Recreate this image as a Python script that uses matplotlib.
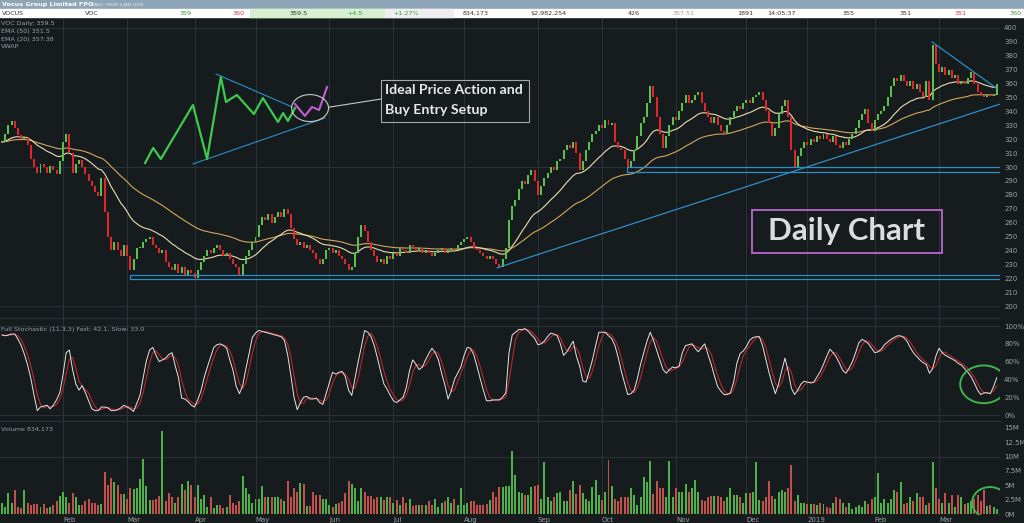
import numpy as np
import pandas as pd
import matplotlib
matplotlib.use('Agg')
import matplotlib.pyplot as plt
from matplotlib.patches import Rectangle, Ellipse

# VOC daily closes (one per trading day from 4 Jan 2018)
closes = [
    318, 324, 330, 333, 328, 323, 320, 321, 316, 306,
    300, 296, 302, 300, 296, 301, 298, 295, 304, 318,
    324, 310, 296, 302, 305, 300, 295, 290, 286, 282,
    279, 292, 268, 250, 240, 246, 240, 236, 244, 236,
    226, 234, 242, 242, 246, 248, 250, 244, 242, 238,
    240, 232, 228, 226, 230, 224, 228, 222, 226, 224,
    220, 226, 232, 236, 240, 238, 242, 244, 240, 236,
    238, 234, 230, 228, 222, 230, 236, 240, 246, 250,
    258, 264, 262, 266, 260, 264, 268, 264, 270, 266,
    256, 248, 244, 246, 242, 244, 240, 238, 234, 230,
    234, 240, 242, 238, 240, 236, 234, 230, 226, 228,
    238, 250, 258, 254, 246, 240, 236, 232, 234, 230,
    236, 234, 238, 236, 242, 240, 238, 244, 242, 240,
    242, 238, 240, 238, 236, 238, 240, 242, 238, 240,
    242, 240, 244, 246, 248, 250, 246, 242, 240, 238,
    236, 234, 236, 234, 230, 228, 234, 242, 262, 272,
    276, 284, 290, 288, 294, 298, 290, 280, 286, 292,
    296, 300, 298, 304, 306, 312, 316, 314, 318, 310,
    298, 304, 312, 318, 324, 326, 330, 328, 334, 330,
    332, 318, 314, 312, 306, 300, 304, 312, 322, 332,
    336, 346, 358, 350, 336, 324, 314, 322, 330, 336,
    334, 340, 346, 352, 346, 348, 352, 354, 346, 340,
    336, 332, 336, 330, 326, 324, 330, 336, 340, 344,
    342, 346, 348, 346, 350, 352, 354, 348, 340, 332,
    322, 328, 338, 344, 348, 336, 312, 300, 308, 314,
    318, 316, 320, 318, 322, 320, 324, 320, 318, 322,
    316, 314, 318, 316, 320, 324, 328, 334, 338, 342,
    332, 326, 334, 338, 340, 344, 350, 358, 364, 362,
    366, 362, 358, 362, 356, 360, 354, 350, 362, 348,
    388, 374, 368, 372, 366, 370, 364, 366, 360, 362,
    360, 364, 368, 360, 354, 352, 350, 352, 351, 352,
    359.5,
]

# daily volume in millions of shares
volumes = [
    1.9, 1.3, 3.6, 1.9, 4.2, 1.3, 1.1, 4.1, 1.9, 1.6,
    1.7, 1.7, 1.3, 1.7, 1.0, 1.3, 1.5, 2.2, 3.2, 3.9,
    2.9, 1.9, 3.7, 2.9, 1.6, 1.6, 2.2, 2.6, 2.0, 1.9,
    1.6, 1.7, 7.3, 5.1, 6.2, 5.5, 5.1, 3.5, 3.5, 2.6,
    4.5, 4.3, 4.6, 6.1, 9.6, 4.8, 2.4, 2.4, 2.6, 3.1,
    14.4, 2.3, 3.6, 2.9, 1.9, 3.0, 5.2, 4.1, 5.7, 5.1,
    3.0, 5.1, 2.7, 3.4, 1.3, 3.0, 1.1, 1.6, 1.5, 1.0,
    1.3, 3.4, 1.9, 1.6, 2.3, 6.6, 4.5, 3.5, 2.0, 2.6,
    2.6, 4.8, 3.0, 2.9, 3.0, 2.9, 2.9, 2.7, 2.3, 5.7,
    3.0, 4.5, 3.9, 5.4, 5.2, 1.4, 1.4, 3.8, 3.3, 3.3,
    2.6, 2.6, 1.6, 1.3, 1.7, 2.0, 2.3, 3.7, 5.8, 5.2,
    4.6, 2.3, 4.6, 3.9, 3.2, 3.1, 2.6, 2.9, 2.9, 2.4,
    3.0, 3.0, 1.9, 2.4, 1.5, 3.0, 2.0, 2.7, 1.4, 1.6,
    1.6, 1.5, 1.6, 2.3, 1.6, 2.6, 1.2, 1.9, 2.2, 2.9,
    1.9, 2.7, 1.6, 4.5, 1.6, 1.9, 2.3, 2.3, 1.6, 1.6,
    1.6, 1.7, 2.4, 3.9, 3.0, 4.7, 4.7, 4.8, 4.8, 11.0,
    6.8, 3.9, 3.6, 3.3, 3.3, 4.7, 4.9, 5.1, 2.7, 9.0,
    2.9, 2.3, 3.0, 3.7, 3.9, 2.3, 2.3, 4.2, 5.7, 3.5,
    5.1, 3.6, 2.7, 2.3, 4.7, 5.9, 3.3, 2.4, 3.9, 9.4,
    4.9, 2.7, 2.2, 2.9, 2.9, 2.9, 4.5, 3.3, 1.6, 2.9,
    6.5, 5.5, 9.3, 3.5, 5.8, 4.5, 4.5, 2.9, 9.3, 2.9,
    4.5, 3.9, 3.9, 5.2, 3.9, 4.5, 5.9, 3.9, 2.4, 2.2,
    3.0, 3.1, 3.1, 3.1, 3.0, 2.2, 3.0, 4.6, 3.3, 3.3,
    3.0, 1.9, 3.6, 3.7, 3.9, 9.0, 2.4, 2.2, 3.0, 5.8,
    3.1, 2.7, 3.9, 4.1, 3.9, 4.5, 8.5, 2.2, 3.3, 1.9,
    1.9, 1.7, 1.7, 1.7, 1.6, 1.9, 1.7, 1.3, 1.0, 1.9,
    3.0, 2.7, 2.0, 1.3, 1.9, 0.8, 1.3, 1.6, 1.3, 2.2,
    1.7, 2.6, 3.0, 7.2, 1.9, 2.6, 1.9, 2.6, 4.2, 3.9,
    5.5, 1.7, 1.9, 2.9, 2.2, 3.6, 2.9, 2.9, 1.5, 2.0,
    9.0, 4.5, 2.7, 2.0, 3.6, 1.9, 3.3, 1.3, 3.3, 2.9,
    1.7, 1.9, 2.2, 2.7, 3.3, 2.2, 4.1, 1.4, 1.5, 1.2,
    0.834,
]

# full stochastic (11,3,3) fast line in %
stoch_fast = [
    90, 89, 90, 91, 91, 85, 78, 68, 56, 41,
    22, 5, 9, 10, 11, 7, 11, 17, 25, 45,
    70, 73, 51, 35, 28, 33, 25, 16, 7, 5,
    5, 9, 9, 8, 5, 5, 6, 8, 11, 9,
    7, 4, 13, 22, 42, 61, 73, 76, 67, 60,
    62, 64, 68, 70, 55, 42, 19, 18, 15, 11,
    9, 17, 27, 42, 54, 65, 76, 79, 80, 78,
    75, 62, 50, 32, 24, 33, 52, 69, 87, 92,
    95, 94, 93, 92, 91, 90, 89, 88, 84, 68,
    45, 20, 6, 14, 20, 21, 18, 18, 19, 14,
    12, 24, 36, 48, 46, 48, 49, 43, 28, 22,
    41, 60, 77, 95, 93, 88, 78, 64, 49, 35,
    29, 22, 16, 14, 17, 20, 31, 50, 62, 57,
    51, 54, 62, 69, 75, 70, 62, 47, 34, 18,
    27, 40, 47, 54, 67, 76, 75, 68, 55, 41,
    28, 16, 16, 17, 17, 17, 20, 25, 70, 90,
    93, 96, 96, 97, 94, 90, 86, 79, 80, 83,
    88, 92, 91, 89, 80, 67, 71, 77, 83, 66,
    55, 38, 37, 49, 62, 78, 93, 93, 93, 89,
    86, 78, 65, 49, 36, 23, 24, 28, 41, 57,
    70, 83, 93, 84, 73, 62, 51, 47, 51, 54,
    53, 55, 70, 78, 79, 80, 75, 71, 76, 80,
    68, 57, 44, 32, 27, 23, 23, 25, 37, 58,
    69, 72, 77, 84, 87, 88, 88, 78, 63, 48,
    35, 24, 35, 50, 64, 49, 30, 23, 28, 35,
    38, 37, 36, 37, 43, 49, 57, 66, 74, 70,
    65, 58, 50, 47, 53, 60, 70, 81, 85, 83,
    80, 75, 70, 71, 74, 79, 82, 85, 87, 89,
    89, 87, 83, 76, 70, 66, 62, 59, 57, 47,
    52, 66, 75, 70, 67, 65, 63, 61, 58, 56,
    52, 48, 43, 36, 28, 23, 25, 25, 24, 32,
    42,
]

first_day = '2018-01-04'
asx_holidays = ['2018-01-26', '2018-03-30', '2018-04-02', '2018-04-25', '2018-06-11',
                '2018-12-25', '2018-12-26', '2019-01-01', '2019-01-28']

price_ticks = list(range(200, 401, 10))
stoch_ticks = [0, 20, 40, 60, 80, 100]
vol_ticks = [0, 2.5, 5, 7.5, 10, 12.5, 15]
vol_labels = ['0M', '2.5M', '5M', '7.5M', '10M', '12.5M', '15M']

header_cells = [
    (2, 'VOCUS', '#333333'), (85, 'VOC', '#333333'), (180, '359', '#3a9a3a'),
    (233, '360', '#cc3b3b'), (290, '359.5', '#333333'), (347, '+4.5', '#3a9a3a'),
    (393, '+1.27%', '#3a9a3a'), (463, '834,173', '#333333'), (530, '$2,982,254', '#333333'),
    (628, '426', '#333333'), (673, '357.51', '#9a9a9a'), (737, '1891', '#333333'),
    (767, '14:05:37', '#333333'), (843, '355', '#333333'), (900, '351', '#333333'),
    (955, '351', '#cc3b3b'), (1010, '360', '#3a9a3a'),
]

W, H = 1024, 523
BG = '#161b1d'
GRID = '#2b3337'
LABEL = '#9aa2a6'
BLUE = '#2b8fc9'


def fx(px):
    return px / W


def fy(py):
    return 1 - py / H


c = np.array(closes, dtype=float)
o = np.r_[c[0], c[:-1]]          # each candle opens at the prior close
vol = np.array(volumes)
x = np.arange(len(c))
up = c >= o

dates = pd.bdate_range(first_day, periods=len(c), freq='C', holidays=asx_holidays)
month_idx, month_lab = [], []
for i in range(1, len(dates)):
    if dates[i].month != dates[i - 1].month:
        month_idx.append(i)
        month_lab.append('2019' if dates[i].month == 1 else dates[i].strftime('%b'))

s = pd.Series(c)
ema20 = s.ewm(span=20, adjust=False).mean()
ema50 = s.ewm(span=50, adjust=False).mean()
fast = pd.Series(stoch_fast, dtype=float)
slow = fast.rolling(3, min_periods=1).mean()

fig = plt.figure(figsize=(W / 100, H / 100), dpi=100)
fig.patch.set_facecolor(BG)

ax = fig.add_axes([0, fy(318), fx(1000), 301 / H])
ax_st = fig.add_axes([0, fy(421), fx(1000), 103 / H], sharex=ax)
ax_v = fig.add_axes([0, fy(515), fx(1000), 94 / H], sharex=ax)

for a in (ax, ax_st, ax_v):
    a.set_facecolor(BG)
    for side in ('left', 'right', 'bottom'):
        a.spines[side].set_visible(False)
    a.spines['top'].set_color(GRID)
    a.spines['top'].set_linewidth(0.8)
    a.yaxis.tick_right()
    a.tick_params(axis='y', length=0, pad=3, labelsize=5, labelcolor=LABEL)
    a.tick_params(axis='x', length=0)
    for m in month_idx:
        a.axvline(m, color=GRID, lw=0.7, zorder=0)
ax.spines['top'].set_visible(False)
ax.set_xlim(-0.62, 311.0)
ax.tick_params(labelbottom=False)
ax_st.tick_params(labelbottom=False)

# price panel
ax.set_ylim(191.4, 407.9)
ax.set_yticks(price_ticks)
for lvl in (200, 300, 400):
    ax.axhline(lvl, color=GRID, lw=0.7, zorder=0)
ax.plot(x, ema50, color='#d2a75c', lw=0.8, zorder=2)
ax.plot(x, ema20, color='#eadcae', lw=0.8, zorder=2)
ax.bar(x, np.maximum(np.abs(c - o), 0.7), bottom=np.minimum(o, c), width=0.62,
       color=np.where(up, '#5cc04c', '#e3262c'), linewidth=0, zorder=3)

# drawn support / trend lines
ax.add_patch(Rectangle((39.9, 219.5), 271.7, 3.0, fill=False, ec=BLUE, lw=0.9, zorder=4))
ax.add_patch(Rectangle((194.8, 296.5), 116.8, 3.5, fill=False, ec=BLUE, lw=0.9, zorder=4))
ax.plot([154.3, 312], [227.5, 346], color=BLUE, lw=0.9, zorder=4)
ax.plot([289.8, 309.8], [390, 356.8], color=BLUE, lw=0.9, zorder=4)

# idealised price action sketch
sketch_x = [44.6, 47.1, 49.5, 59.5, 63.9, 68.2, 69.8, 73.2, 78.5, 81.3, 86.0, 87.6, 89.1, 91.3]
sketch_y = [302.9, 313.7, 305.8, 344.6, 305.8, 364.7, 346.8, 351.8, 338.1, 349.6, 332.4, 338.8, 333.1, 342.4]
entry_x = [91.3, 94.4, 96.6, 98.8, 101.3]
entry_y = [345.3, 336.7, 343.2, 341.0, 357.6]
ax.plot(sketch_x, sketch_y, color='#3ec94e', lw=1.6, zorder=5)
ax.plot(entry_x, entry_y, color='#c060d0', lw=1.5, zorder=5)
ax.plot([66.7, 90.4], [366.9, 343.2], color=BLUE, lw=0.8, zorder=4)
ax.plot([59.5, 100.7], [302.2, 335.3], color=BLUE, lw=0.8, zorder=4)
ax.add_patch(Ellipse((96.0, 342.4), 11.5, 19.4, fill=False, ec='#c8c8c8', lw=0.8, zorder=6))
ax.plot([101.8, 118.1], [343.0, 348.9], color='#c8c8c8', lw=0.8, zorder=6)
ax.add_patch(Rectangle((118.1, 332.6), 46.0, 30.0, fill=False, ec='#a8a8a8', lw=0.8, zorder=6))
ax.text(119.2, 355.2, 'Ideal Price Action and', color='#e8e8e8', fontsize=10.2,
        fontweight='bold', family=['Lato', 'DejaVu Sans'], va='center', zorder=7)
ax.text(119.2, 341.3, 'Buy Entry Setup', color='#e8e8e8', fontsize=10.2,
        fontweight='bold', family=['Lato', 'DejaVu Sans'], va='center', zorder=7)

ax.add_patch(Rectangle((233.7, 238.1), 59.2, 31.0, fill=False, ec='#b060c0', lw=1.4, zorder=6))
ax.text(263.3, 253.8, 'Daily Chart', color='#dcdcdc', fontsize=22.5, fontweight='bold',
        family=['Lato', 'DejaVu Sans'], ha='center', va='center', zorder=7)

# stochastic panel
ax_st.set_ylim(-6.7, 109)
ax_st.set_yticks(stoch_ticks)
ax_st.set_yticklabels([f'{t}%' for t in stoch_ticks])
for lvl in (0, 100):
    ax_st.axhline(lvl, color=GRID, lw=0.7, zorder=0)
ax_st.plot(x, slow, color='#b8282d', lw=0.8, zorder=2)
ax_st.plot(x, fast, color='#e4e4e4', lw=0.7, zorder=3)
ax_st.add_patch(Ellipse((305.9, 34.5), 14.6, 42.4, fill=False, ec='#3cb54a', lw=1.4, zorder=5))

# volume panel
ax_v.set_ylim(-0.17, 16.2)
ax_v.set_yticks(vol_ticks)
ax_v.set_yticklabels(vol_labels)
ax_v.axhline(10, color=GRID, lw=0.7, zorder=0)
ax_v.bar(x, vol, width=0.62, color=np.where(up, '#4fb04a', '#c2504c'), linewidth=0, zorder=2)
ax_v.add_patch(Ellipse((307.9, 2.0), 11.2, 5.4, fill=False, ec='#3cb54a', lw=1.4, zorder=5))
ax_v.set_xticks(month_idx)
ax_v.set_xticklabels(month_lab)
ax_v.tick_params(axis='x', pad=1.5, labelsize=5, labelcolor=LABEL)
for t in ax_v.get_xticklabels():
    t.set_ha('left')

# header strip
fig.patches.append(Rectangle((0, fy(9)), 1, 9 / H, transform=fig.transFigure,
                             color='#8ea4b7', zorder=0))
fig.patches.append(Rectangle((0, fy(17)), 1, 8 / H, transform=fig.transFigure,
                             color='#ffffff', zorder=0))
fig.patches.append(Rectangle((fx(250), fy(17)), fx(135), 8 / H, transform=fig.transFigure,
                             color='#d6efd0', zorder=0))
fig.patches.append(Rectangle((fx(385), fy(17)), fx(68), 8 / H, transform=fig.transFigure,
                             color='#efefef', zorder=0))
fig.text(fx(2), fy(4.5), 'Vocus Group Limited FPO', color='white', fontsize=4.6,
         fontweight='bold', va='center')
fig.text(fx(91), fy(4.8), 'DAILY, FROM 4 JAN 2018', color='#e8eef3', fontsize=3.2, va='center')
for px, txt, col in header_cells:
    fig.text(fx(px), fy(13.2), txt, color=col, fontsize=4.6, va='center')

# panel captions
for py, txt in [(23, 'VOC Daily: 359.5'), (31, 'EMA (50) 351.5'), (39, 'EMA (20) 357.38'), (46.5, 'VWAP')]:
    fig.text(fx(1), fy(py), txt, color=LABEL, fontsize=4.6, va='center')
fig.text(fx(1), fy(330), 'Full Stochastic (11,3,3) Fast: 42.1, Slow: 33.0', color=LABEL,
         fontsize=4.6, va='center')
fig.text(fx(1), fy(429), 'Volume 834,173', color=LABEL, fontsize=4.6, va='center')

fig.savefig('out.png', dpi=100, facecolor=BG)
